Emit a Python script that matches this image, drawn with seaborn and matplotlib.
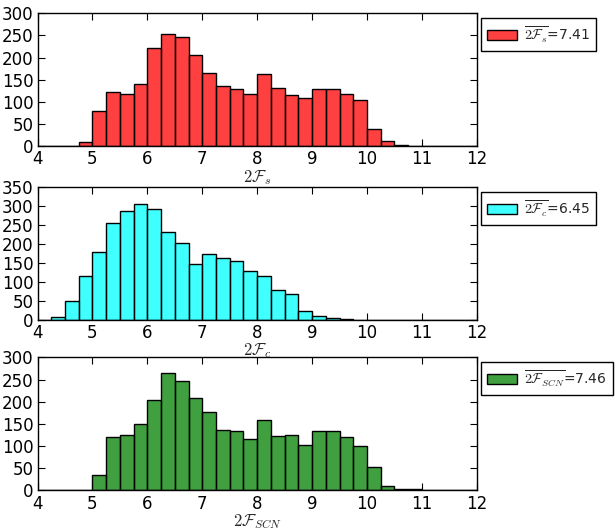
import numpy as np
import pandas as pd
import matplotlib
matplotlib.use("Agg")
import matplotlib.pyplot as plt
import seaborn as sns

# -----------------------------------------
# DATA (counts per 0.25-wide bin)
# -----------------------------------------
s_bins = [4.75, 5.0, 5.25, 5.5, 5.75, 6.0, 6.25, 6.5, 6.75, 7.0, 7.25, 7.5, 7.75,
          8.0, 8.25, 8.5, 8.75, 9.0, 9.25, 9.5, 9.75, 10.0, 10.25, 10.5, 10.75]
s_counts = [9, 80, 122, 119, 140, 221, 253, 246, 206, 165, 135, 129, 117,
            162, 131, 116, 110, 130, 129, 117, 104, 38, 11, 2, 1]

c_bins = [4.25, 4.5, 4.75, 5.0, 5.25, 5.5, 5.75, 6.0, 6.25, 6.5, 6.75, 7.0, 7.25,
          7.5, 7.75, 8.0, 8.25, 8.5, 8.75, 9.0, 9.25, 9.5, 9.75, 10.0]
c_counts = [7, 50, 117, 180, 254, 287, 304, 292, 232, 203, 146, 174, 164,
            154, 129, 117, 78, 68, 23, 10, 4, 3, 1, 1]

scn_bins = [5.0, 5.25, 5.5, 5.75, 6.0, 6.25, 6.5, 6.75, 7.0, 7.25, 7.5, 7.75,
            8.0, 8.25, 8.5, 8.75, 9.0, 9.25, 9.5, 9.75, 10.0, 10.25, 10.5, 10.75]
scn_counts = [34, 121, 126, 149, 204, 264, 247, 208, 177, 137, 135, 117,
              159, 122, 126, 102, 135, 133, 120, 99, 52, 11, 3, 3]

panels = [
    (s_bins, s_counts, "red", r"$2\mathcal{F}_s$", r"$\overline{2\mathcal{F}_s}$=7.41", 300),
    (c_bins, c_counts, "cyan", r"$2\mathcal{F}_c$", r"$\overline{2\mathcal{F}_c}$=6.45", 350),
    (scn_bins, scn_counts, "green", r"$2\mathcal{F}_{SCN}$", r"$\overline{2\mathcal{F}_{SCN}}$=7.46", 300),
]
edges = [4.0 + 0.25 * i for i in range(33)]

# -----------------------------------------
# STYLE
# -----------------------------------------
sns.set_style("ticks")
plt.rcParams["font.family"] = ["DejaVu Sans"]
plt.rcParams["mathtext.fontset"] = "cm"
plt.rcParams["xtick.direction"] = "in"
plt.rcParams["ytick.direction"] = "in"
plt.rcParams["xtick.top"] = True
plt.rcParams["ytick.right"] = True

fig = plt.figure(figsize=(6.16, 5.31), dpi=100)
bottoms = [0.7245, 0.3974, 0.0765]

for (bins, counts, color, xlabel, leg, ymax), b in zip(panels, bottoms):
    ax = fig.add_axes([0.061, b, 0.713, 0.2505])
    df = pd.DataFrame({"x": [v + 0.125 for v in bins], "n": counts})
    sns.histplot(data=df, x="x", weights="n", bins=edges, color=color, alpha=0.75,
                 edgecolor="black", linewidth=1, ax=ax, label=leg)
    ax.set_xlim(4, 12)
    ax.set_ylim(0, ymax)
    ax.set_xticks(range(4, 13))
    ax.set_yticks(range(0, ymax + 1, 50))
    ax.tick_params(labelsize=12, length=5, width=0.8, colors="black", pad=3)
    for sp in ax.spines.values():
        sp.set_color("black")
        sp.set_linewidth(1)
    ax.set_xlabel(xlabel, fontsize=12, labelpad=-0.5)
    ax.set_ylabel("")
    lg = ax.legend(loc="upper left", bbox_to_anchor=(1.01, 0.965), borderaxespad=0,
                   fontsize=10, fancybox=False, framealpha=1, edgecolor="black",
                   handlelength=2.1, handleheight=0.75, handletextpad=0.5,
                   borderpad=0.45)
    lg.get_frame().set_linewidth(1)

fig.savefig("out.png", dpi=100)
